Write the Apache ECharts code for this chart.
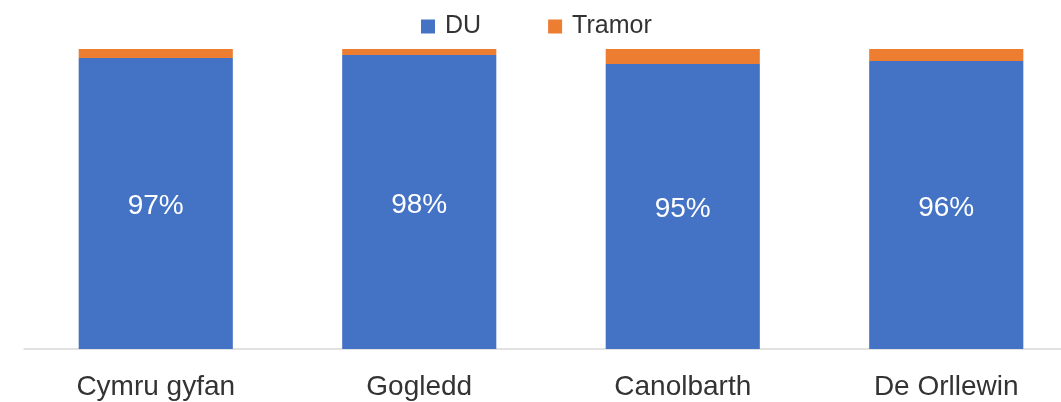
<!DOCTYPE html>
<html>
<head>
<meta charset="utf-8">
<script src="https://cdn.jsdelivr.net/npm/echarts@6/dist/echarts.min.js"></script>
<style>
  html, body { margin: 0; padding: 0; background: #fff; }
  #chart { width: 1061px; height: 402px; }
</style>
</head>
<body>
<div id="chart"></div>
<script>
const categories = ["Cymru gyfan", "Gogledd", "Canolbarth", "De Orllewin"];
const du = [97, 98, 95, 96];
const tramor = [3, 2, 5, 4];

const font = "'Liberation Sans', Arial, sans-serif";
const chart = echarts.init(document.getElementById("chart"));
chart.setOption({
  animation: false,
  legend: {
    top: 9,
    left: 416,
    itemWidth: 14,
    itemHeight: 14,
    itemGap: 67,
    icon: "rect",
    textStyle: { fontFamily: font, fontSize: 25, color: "#333333", padding: [0, 0, 0, 5] },
    data: ["DU", "Tramor"]
  },
  grid: { left: 24, width: 1054, top: 49, bottom: 53, outerBoundsMode: "none", containLabel: false },
  xAxis: {
    type: "category",
    data: categories,
    axisLine: { lineStyle: { color: "#d9d9d9", width: 1.5 } },
    axisTick: { show: false },
    axisLabel: { fontFamily: font, fontSize: 28, color: "#333333", margin: 24 }
  },
  yAxis: {
    type: "value",
    min: 0,
    max: 100,
    show: false,
    splitLine: { show: false }
  },
  series: [
    {
      name: "DU",
      type: "bar",
      stack: "total",
      barWidth: "58.5%",
      data: du,
      itemStyle: { color: "#4472c4" },
      label: {
        show: true,
        position: "inside",
        offset: [0, 3],
        formatter: "{c}%",
        color: "#fff",
        fontFamily: font,
        fontSize: 28
      }
    },
    {
      name: "Tramor",
      type: "bar",
      stack: "total",
      data: tramor,
      itemStyle: { color: "#ed7d31" }
    }
  ]
});
</script>
</body>
</html>
